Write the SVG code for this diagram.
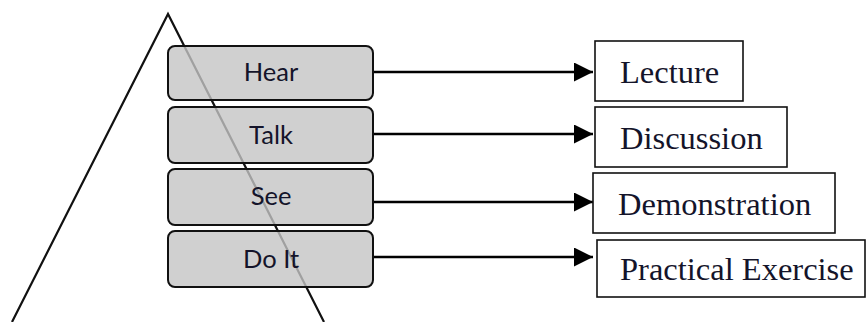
<svg xmlns="http://www.w3.org/2000/svg" width="868" height="322" viewBox="0 0 868 322">
<defs>
<style>
.stage{fill:#c4c4c4;fill-opacity:0.8;stroke:#111;stroke-width:2}
.stage-t{font-family:Lato,"Open Sans",sans-serif;font-size:25.5px;fill:#14142a;text-anchor:middle}
.method{fill:#fff;stroke:#111;stroke-width:1.6}
.method-t{font-family:"Liberation Serif","Times New Roman",serif;font-size:32.5px;fill:#14142a}
.conn{stroke:#000;stroke-width:2.6;fill:none}
</style>
<marker id="ah" markerWidth="19" markerHeight="19" viewBox="0 0 19 19" refX="19" refY="9.5" orient="auto" markerUnits="userSpaceOnUse">
<path d="M0,0 L19,9.5 L0,19 Z" fill="#000"/>
</marker>
</defs>
<rect width="868" height="322" fill="#fff"/>
<g id="pyramid">
<polyline points="12,322 168,14 324,322" fill="none" stroke="#111" stroke-width="2.2"/>
</g>
<g id="connectors">
<line class="conn" x1="373" y1="72" x2="593" y2="72" marker-end="url(#ah)"/>
<line class="conn" x1="373" y1="134" x2="593" y2="134" marker-end="url(#ah)"/>
<line class="conn" x1="373" y1="202" x2="593" y2="202" marker-end="url(#ah)"/>
<line class="conn" x1="373" y1="257" x2="593" y2="257" marker-end="url(#ah)"/>
</g>
<g id="hear"><rect class="stage" x="168" y="46" width="205" height="54" rx="7"/><text class="stage-t" x="271" y="81">Hear</text></g>
<g id="talk"><rect class="stage" x="168" y="107" width="205" height="56" rx="7"/><text class="stage-t" x="271" y="143.5">Talk</text></g>
<g id="see"><rect class="stage" x="168" y="169" width="205" height="56" rx="7"/><text class="stage-t" x="271" y="205">See</text></g>
<g id="doit"><rect class="stage" x="168" y="231" width="205" height="56" rx="7"/><text class="stage-t" x="271" y="268">Do It</text></g>
<g id="lecture"><rect class="method" x="595" y="41" width="148" height="60"/><text class="method-t" x="620" y="83">Lecture</text></g>
<g id="discussion"><rect class="method" x="595" y="107" width="192" height="60"/><text class="method-t" x="620" y="149">Discussion</text></g>
<g id="demonstration"><rect class="method" x="593" y="173" width="242" height="60"/><text class="method-t" x="618" y="215">Demonstration</text></g>
<g id="practical"><rect class="method" x="597" y="240" width="268" height="57"/><text class="method-t" x="620" y="280">Practical Exercise</text></g>
</svg>
